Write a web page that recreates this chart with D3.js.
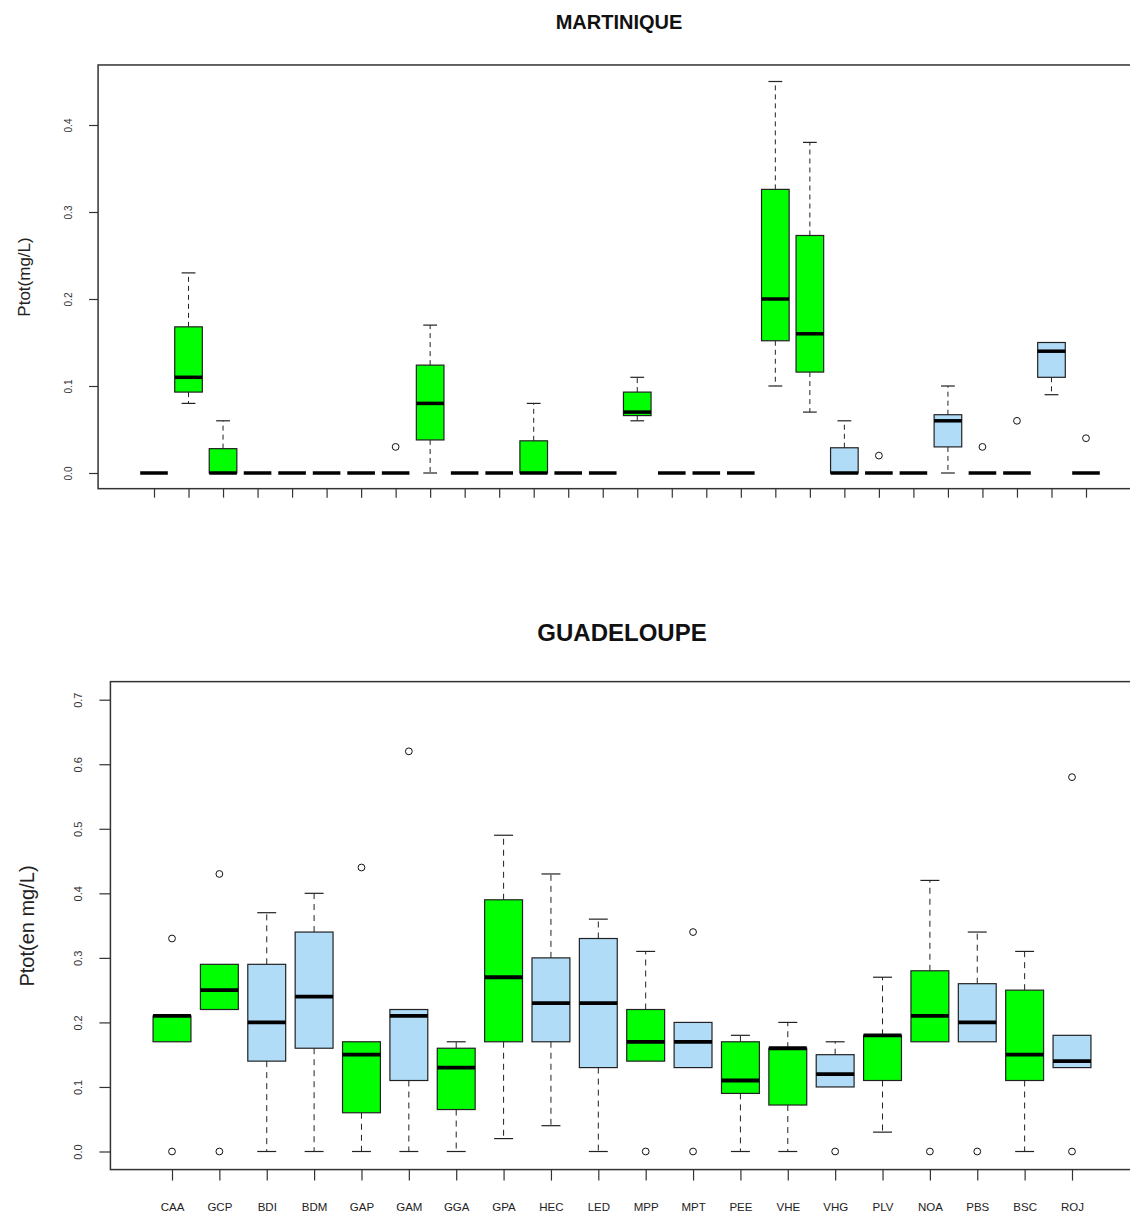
<!DOCTYPE html>
<html>
<head>
<meta charset="utf-8">
<script src="https://cdn.jsdelivr.net/npm/d3@7"></script>
<style>
  body { margin: 0; background: #fff; }
  svg { display: block; font-family: "Liberation Sans", Arial, sans-serif; }
</style>
</head>
<body>
<svg id="chart" width="1130" height="1216"></svg>
<script>
// ---------------- DATA ----------------
// MARTINIQUE (28 stations, no axis labels shown)
const mqSites = ["M01","M02","M03","M04","M05","M06","M07","M08","M09","M10","M11","M12","M13","M14",
                 "M15","M16","M17","M18","M19","M20","M21","M22","M23","M24","M25","M26","M27","M28"];
const mqLow    = [0, 0.08, 0, 0, 0, 0, 0, 0, 0,     0, 0, 0, 0, 0, 0.06,  0, 0, 0, 0.10,  0.07,  0, 0, 0, 0,    0, 0, 0.09, 0];
const mqQ1     = [0, 0.093,0, 0, 0, 0, 0, 0, 0.038, 0, 0, 0, 0, 0, 0.066, 0, 0, 0, 0.152, 0.116, 0, 0, 0, 0.03, 0, 0, 0.11, 0];
const mqMedian = [0, 0.11, 0, 0, 0, 0, 0, 0, 0.08,  0, 0, 0, 0, 0, 0.07,  0, 0, 0, 0.20,  0.16,  0, 0, 0, 0.06, 0, 0, 0.14, 0];
const mqQ3     = [0, 0.168,0.028, 0, 0, 0, 0, 0, 0.124, 0, 0, 0.037, 0, 0, 0.093, 0, 0, 0, 0.326, 0.273, 0.029, 0, 0, 0.067, 0, 0, 0.15, 0];
const mqHigh   = [0, 0.23, 0.06, 0, 0, 0, 0, 0, 0.17,  0, 0, 0.08,  0, 0, 0.11,  0, 0, 0, 0.45,  0.38,  0.06,  0, 0, 0.10,  0, 0, 0.15, 0];
const mqOut    = [[],[],[],[],[],[],[],[0.03],[],[],[],[],[],[],[],[],[],[],[],[],[],[0.02],[],[],[0.03],[0.06],[],[0.04]];
const mqType   = ["g","g","g","g","g","g","g","g","g","g","g","g","g","g","g","g","g","g","g","g","b","b","b","b","b","b","b","b"];
const mqTicks  = [0, 0.1, 0.2, 0.3, 0.4];

// GUADELOUPE (20 stations)
const gpSites  = ["CAA","GCP","BDI","BDM","GAP","GAM","GGA","GPA","HEC","LED","MPP","MPT","PEE","VHE","VHG","PLV","NOA","PBS","BSC","ROJ"];
const gpLow    = [0.17, 0.22, 0,    0,    0,    0,    0,     0.02, 0.04, 0,    0.14, 0.13, 0,    0,     0.10, 0.03, 0.17, 0.17, 0,    0.13];
const gpQ1     = [0.17, 0.22, 0.14, 0.16, 0.06, 0.11, 0.065, 0.17, 0.17, 0.13, 0.14, 0.13, 0.09, 0.072, 0.10, 0.11, 0.17, 0.17, 0.11, 0.13];
const gpMedian = [0.21, 0.25, 0.20, 0.24, 0.15, 0.21, 0.13,  0.27, 0.23, 0.23, 0.17, 0.17, 0.11, 0.16,  0.12, 0.18, 0.21, 0.20, 0.15, 0.14];
const gpQ3     = [0.21, 0.29, 0.29, 0.34, 0.17, 0.22, 0.16,  0.39, 0.30, 0.33, 0.22, 0.20, 0.17, 0.16,  0.15, 0.18, 0.28, 0.26, 0.25, 0.18];
const gpHigh   = [0.21, 0.29, 0.37, 0.40, 0.17, 0.22, 0.17,  0.49, 0.43, 0.36, 0.31, 0.20, 0.18, 0.20,  0.17, 0.27, 0.42, 0.34, 0.31, 0.18];
const gpOut    = [[0.33,0],[0.43,0],[],[],[0.44],[0.62],[],[],[],[],[0],[0.34,0],[],[],[0],[],[0],[0],[],[0.58,0]];
const gpType   = ["g","g","b","b","g","b","g","g","b","b","g","b","g","g","b","g","g","b","g","b"];
const gpTicks  = [0, 0.1, 0.2, 0.3, 0.4, 0.5, 0.6, 0.7];

const fills = { g: "#00ff00", b: "#b0dcf8" };

// ---------------- DRAW ----------------
const svg = d3.select("#chart");

function boxplot(cfg) {
  const n = cfg.sites.length;
  const x = d3.scaleLinear().domain([1, n]).range(cfg.xRange);
  const y = d3.scaleLinear().domain([0, cfg.yRef]).range(cfg.yRange);
  const step = x(2) - x(1);
  const bw = step * 0.8, sw = step * 0.4;
  const ext = n * 0.04;
  const fx0 = x(0.5 - ext), fx1 = x(n + 0.5 + ext);
  const fy0 = y(cfg.yDomain[1]), fy1 = y(cfg.yDomain[0]);
  const g = svg.append("g");

  const rows = cfg.sites.map((s, i) => ({
    site: s, i: i + 1, low: cfg.low[i], q1: cfg.q1[i], med: cfg.median[i],
    q3: cfg.q3[i], high: cfg.high[i], out: cfg.out[i], type: cfg.type[i]
  }));

  const b = g.selectAll("g.box").data(rows).join("g").attr("class", "box");
  // whiskers
  b.filter(d => d.high > d.q3).append("line")
    .attr("x1", d => x(d.i)).attr("x2", d => x(d.i))
    .attr("y1", d => y(d.q3)).attr("y2", d => y(d.high))
    .attr("stroke", "#222").attr("stroke-width", 1).attr("stroke-dasharray", cfg.dash);
  b.filter(d => d.low < d.q1).append("line")
    .attr("x1", d => x(d.i)).attr("x2", d => x(d.i))
    .attr("y1", d => y(d.q1)).attr("y2", d => y(d.low))
    .attr("stroke", "#222").attr("stroke-width", 1).attr("stroke-dasharray", cfg.dash);
  // staples
  b.filter(d => d.high > d.q3).append("line")
    .attr("x1", d => x(d.i) - sw / 2).attr("x2", d => x(d.i) + sw / 2)
    .attr("y1", d => y(d.high)).attr("y2", d => y(d.high))
    .attr("stroke", "#222").attr("stroke-width", 1.2);
  b.filter(d => d.low < d.q1).append("line")
    .attr("x1", d => x(d.i) - sw / 2).attr("x2", d => x(d.i) + sw / 2)
    .attr("y1", d => y(d.low)).attr("y2", d => y(d.low))
    .attr("stroke", "#222").attr("stroke-width", 1.2);
  // boxes
  b.append("rect")
    .attr("x", d => x(d.i) - bw / 2).attr("width", bw)
    .attr("y", d => y(d.q3)).attr("height", d => y(d.q1) - y(d.q3))
    .attr("fill", d => fills[d.type]).attr("stroke", "#222").attr("stroke-width", 1.2);
  // medians
  b.append("line")
    .attr("x1", d => x(d.i) - bw / 2).attr("x2", d => x(d.i) + bw / 2)
    .attr("y1", d => y(d.med)).attr("y2", d => y(d.med))
    .attr("stroke", "#000").attr("stroke-width", cfg.medW);
  // outliers
  b.selectAll("circle").data(d => d.out.map(v => ({ i: d.i, v }))).join("circle")
    .attr("cx", d => x(d.i)).attr("cy", d => y(d.v)).attr("r", 3.4)
    .attr("fill", "none").attr("stroke", "#111").attr("stroke-width", 1);

  // frame
  g.append("rect").attr("x", fx0).attr("y", fy0).attr("width", fx1 - fx0).attr("height", fy1 - fy0)
    .attr("fill", "none").attr("stroke", "#333").attr("stroke-width", 1.5);

  // y axis
  const yAxis = d3.axisLeft(y).tickValues(cfg.yTicks).tickFormat(d3.format(".1f"))
    .tickSize(cfg.tickLen).tickPadding(0);
  const ya = g.append("g").attr("transform", `translate(${fx0},0)`).call(yAxis);
  ya.select(".domain").remove();
  ya.selectAll(".tick line").attr("stroke", "#333").attr("stroke-width", 1.2);
  ya.selectAll(".tick text")
    .attr("x", null).attr("dy", null)
    .attr("transform", `translate(${cfg.yLabX - fx0},0) rotate(-90)`)
    .attr("text-anchor", "middle")
    .style("font-size", cfg.yTickFont + "px").attr("fill", "#333")
    .style("font-family", '"Liberation Sans", Arial, sans-serif');

  // x axis
  const xAxis = d3.axisBottom(x).tickValues(rows.map(d => d.i))
    .tickFormat(cfg.showX ? (v => cfg.sites[v - 1]) : "").tickSize(cfg.tickLen).tickPadding(0);
  const xa = g.append("g").attr("transform", `translate(0,${fy1})`).call(xAxis);
  xa.select(".domain").remove();
  xa.selectAll(".tick line").attr("stroke", "#333").attr("stroke-width", 1.2);
  xa.selectAll(".tick text")
    .attr("y", cfg.xLabY - fy1).attr("dy", null)
    .style("font-size", "11.5px").attr("fill", "#222")
    .style("font-family", '"Liberation Sans", Arial, sans-serif');

  // title & y label
  svg.append("text").attr("x", cfg.titleX).attr("y", cfg.titleY)
    .attr("text-anchor", "middle").style("font-weight", "bold")
    .style("font-size", cfg.titleFont + "px").attr("fill", "#111").text(cfg.title);
  svg.append("text")
    .attr("transform", `translate(${cfg.labX},${cfg.labY}) rotate(-90)`)
    .attr("text-anchor", "middle").style("font-size", cfg.labFont + "px")
    .attr("fill", "#222").text(cfg.ylabel);
}

boxplot({
  sites: mqSites, low: mqLow, q1: mqQ1, median: mqMedian, q3: mqQ3, high: mqHigh,
  out: mqOut, type: mqType, yTicks: mqTicks,
  xRange: [154, 1086], yRef: 0.4, yRange: [473, 125], yDomain: [-0.018, 0.469],
  dash: "5,4", medW: 3.5, tickLen: 9, yLabX: 72, yTickFont: 10, showX: false, xLabY: 0,
  title: "MARTINIQUE", titleX: 619, titleY: 29, titleFont: 20,
  ylabel: "Ptot(mg/L)", labX: 30, labY: 277, labFont: 17
});

boxplot({
  sites: gpSites, low: gpLow, q1: gpQ1, median: gpMedian, q3: gpQ3, high: gpHigh,
  out: gpOut, type: gpType, yTicks: gpTicks,
  xRange: [172, 1072], yRef: 0.7, yRange: [1151.5, 699.7], yDomain: [-0.028, 0.728],
  dash: "6,5", medW: 3.8, tickLen: 11, yLabX: 82, yTickFont: 11, showX: true, xLabY: 1211,
  title: "GUADELOUPE", titleX: 622, titleY: 641, titleFont: 24,
  ylabel: "Ptot(en mg/L)", labX: 34, labY: 926, labFont: 20
});
</script>
</body>
</html>
